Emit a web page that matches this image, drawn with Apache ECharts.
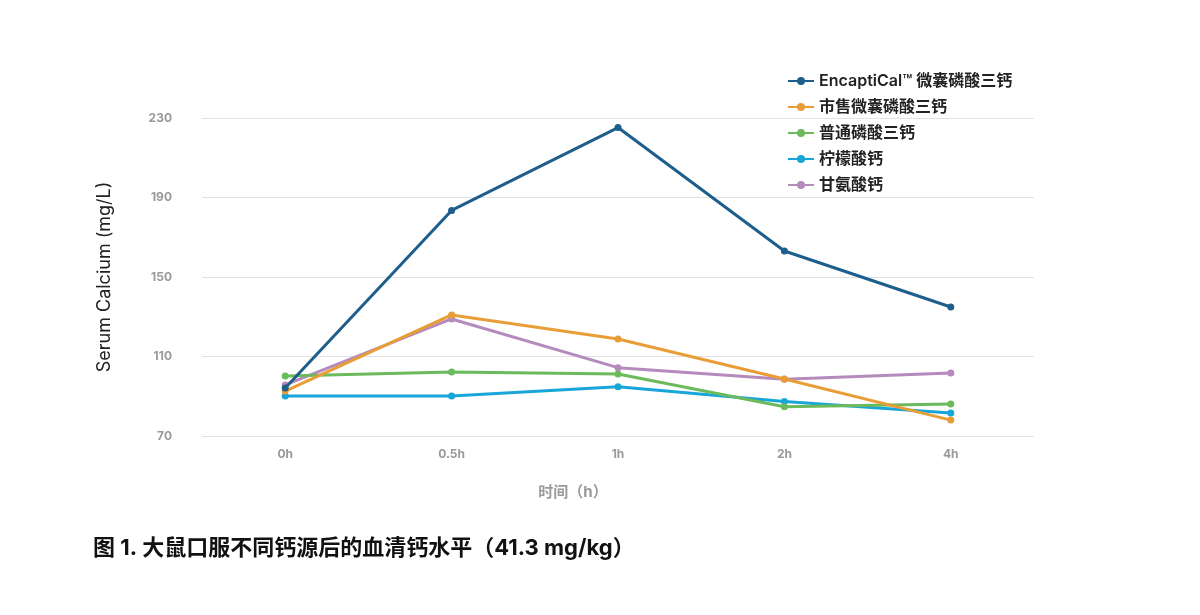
<!DOCTYPE html>
<html>
<head>
<meta charset="utf-8">
<script src="https://cdn.jsdelivr.net/npm/echarts@6/dist/echarts.min.js"></script>
<style>
  html, body { margin: 0; padding: 0; background: #fff; }
  #main { width: 1200px; height: 615px; }
</style>
</head>
<body>
<div id="main"></div>
<script>
// 时间点
const times = ['0h', '0.5h', '1h', '2h', '4h'];
// 各钙源的血清钙 (mg/L)
const encaptical = [94.2, 183.5, 225.2, 163.1, 134.9];
const shishou = [92.6, 130.9, 118.8, 98.7, 78.0];
const putong = [100.2, 102.2, 101.2, 84.7, 86.1];
const ningmeng = [90.1, 90.1, 94.8, 87.3, 81.6];
const ganan = [95.7, 128.9, 104.4, 98.5, 101.7];
const seriesNames = ['EncaptiCal™ 微囊磷酸三钙', '市售微囊磷酸三钙', '普通磷酸三钙', '柠檬酸钙', '甘氨酸钙'];
const yTicks = [70, 110, 150, 190, 230];

const font = 'Inter, "Noto Sans CJK SC", sans-serif';
const colors = ['#1d5e8c', '#e99d37', '#6cba5c', '#18a6d9', '#b58bbd'];
const allData = [encaptical, shishou, putong, ningmeng, ganan];

const chart = echarts.init(document.getElementById('main'));
const option = {
    color: colors,
    textStyle: { fontFamily: font },
    title: [
        {
            text: '图 1. 大鼠口服不同钙源后的血清钙水平（41.3 mg/kg）',
            left: 88,
            top: 532,
            textStyle: { fontSize: 22, fontWeight: 'bold', color: '#111', fontFamily: font }
        },
        {
            text: '时间（h）',
            left: 568,
            top: 480,
            textAlign: 'center',
            textStyle: { fontSize: 15, fontWeight: 'bold', color: '#999', fontFamily: font }
        }
    ],
    legend: {
        orient: 'vertical',
        left: 782,
        top: 68,
        itemGap: 10,
        itemWidth: 26,
        itemHeight: 10,
        textStyle: { fontSize: 16, fontWeight: 600, color: '#222', fontFamily: font, lineHeight: 16 },
        data: seriesNames
    },
    grid: {
        left: 202,
        right: 166,
        top: 118,
        bottom: 179
    },
    xAxis: {
        type: 'category',
        data: times,
        boundaryGap: true,
        axisLine: { show: false },
        axisTick: { show: false },
        axisLabel: { color: '#999', fontSize: 12, fontWeight: 'bold', margin: 12 }
    },
    yAxis: {
        type: 'value',
        min: yTicks[0],
        max: yTicks[yTicks.length - 1],
        interval: 40,
        name: 'Serum Calcium (mg/L)',
        nameLocation: 'middle',
        nameGap: 88,
        nameTextStyle: { fontSize: 18, color: '#222', fontFamily: font },
        axisLine: { show: false },
        axisTick: { show: false },
        axisLabel: { color: '#999', fontSize: 12, fontWeight: 'bold', margin: 30 },
        splitLine: { lineStyle: { color: '#e2e2e2', width: 1 } }
    },
    series: seriesNames.map((name, i) => ({
        name: name,
        type: 'line',
        data: allData[i],
        symbol: 'circle',
        symbolSize: 7,
        lineStyle: { width: 3 },
        z: 10 - i
    }))
};
chart.setOption(option);
</script>
</body>
</html>
